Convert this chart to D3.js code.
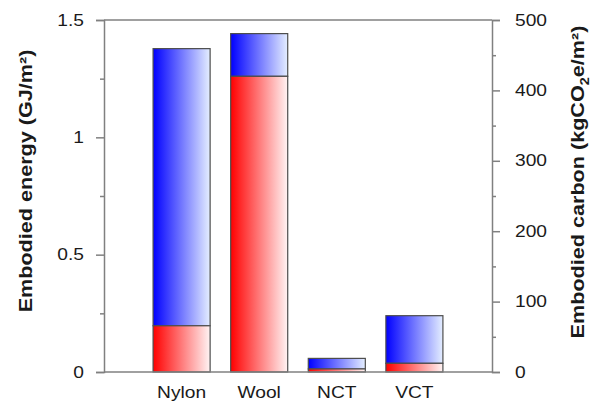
<!DOCTYPE html>
<html>
<head>
<meta charset="utf-8">
<script src="https://cdn.jsdelivr.net/npm/d3@7"></script>
<style>
  body { margin: 0; background: #fff; }
  text { font-family: "Liberation Sans", Arial, sans-serif; fill: #1a1a1a; }
</style>
</head>
<body>
<div id="chart"></div>
<script>
// data (GJ/m2)
const categories = ["Nylon", "Wool", "NCT", "VCT"];
const lowerValues = [0.197, 1.26, 0.013, 0.037];   // red segment
const totalValues = [1.378, 1.442, 0.058, 0.24];   // top of blue segment
const leftTicks = [0, 0.5, 1, 1.5];
const leftTickLabels = ["0", "0.5", "1", "1.5"];
const leftMinor = [0.25, 0.75, 1.25];
const rightTicks = [0, 100, 200, 300, 400, 500];
const rightMinor = [50, 150, 250, 350, 450];

const W = 593, H = 403;
const margin = {top: 20, right: 101, bottom: 31, left: 104};
const width = W - margin.left - margin.right;
const height = H - margin.top - margin.bottom;
const axisColor = "#808080";
const stretch = 1.2; // the original lettering is wide

const svg = d3.select("#chart").append("svg")
    .attr("width", W)
    .attr("height", H);

const defs = svg.append("defs");
function grad(id, c1, c2) {
    let g = defs.append("linearGradient").attr("id", id)
        .attr("x1", "0%").attr("x2", "100%").attr("y1", "0%").attr("y2", "0%");
    g.append("stop").attr("offset", "0%").attr("stop-color", c1);
    g.append("stop").attr("offset", "100%").attr("stop-color", c2);
}
grad("gBlue", "#0000ff", "#e4eeff");
grad("gRed", "#ff0000", "#fff4f4");

const g = svg.append("g")
    .attr("transform", "translate(" + margin.left + "," + margin.top + ")");

// first slot left empty, like the original
const slot = width / 5;
const x = d3.scaleBand()
    .domain(categories)
    .range([slot * 0.5, width - slot * 0.5])
    .paddingInner(0.265)
    .paddingOuter(0.1325);

const y = d3.scaleLinear().domain([0, 1.5]).range([height, 0]);
const y2 = d3.scaleLinear().domain([0, 500]).range([height, 0]);

// bars
const bars = g.selectAll(".bar").data(categories).enter().append("g");
bars.append("rect")
    .attr("x", d => x(d))
    .attr("width", x.bandwidth())
    .attr("y", (d, i) => y(totalValues[i]))
    .attr("height", (d, i) => y(lowerValues[i]) - y(totalValues[i]))
    .attr("fill", "url(#gBlue)")
    .attr("stroke", "#4d4d4d")
    .attr("stroke-width", 1.2);
bars.append("rect")
    .attr("x", d => x(d))
    .attr("width", x.bandwidth())
    .attr("y", (d, i) => y(lowerValues[i]))
    .attr("height", (d, i) => y(0) - y(lowerValues[i]))
    .attr("fill", "url(#gRed)")
    .attr("stroke", "#4d4d4d")
    .attr("stroke-width", 1.2);

// frame lines
g.append("line").attr("x1", 0).attr("x2", width).attr("y1", 0).attr("y2", 0)
    .attr("stroke", axisColor).attr("stroke-width", 1.5);
g.append("line").attr("x1", 0).attr("x2", width).attr("y1", height).attr("y2", height)
    .attr("stroke", axisColor).attr("stroke-width", 1.5);

// left axis
const leftAxis = g.append("g")
    .call(d3.axisLeft(y).tickValues(leftTicks).tickSize(8).tickPadding(12)
        .tickFormat((d, i) => leftTickLabels[i]));
g.append("g")
    .call(d3.axisLeft(y).tickValues(leftMinor).tickSize(4).tickFormat(""))
    .select(".domain").remove();

// right axis
const rightAxis = g.append("g")
    .attr("transform", "translate(" + width + ",0)")
    .call(d3.axisRight(y2).tickValues(rightTicks).tickSize(8).tickPadding(15));
g.append("g")
    .attr("transform", "translate(" + width + ",0)")
    .call(d3.axisRight(y2).tickValues(rightMinor).tickSize(4).tickFormat(""))
    .select(".domain").remove();

g.selectAll(".domain").attr("stroke", axisColor).attr("stroke-width", 1.5);
g.selectAll(".tick line").attr("stroke", axisColor).attr("stroke-width", 1.5);
g.selectAll(".tick text")
    .style("font-family", "'Liberation Sans', Arial, sans-serif")
    .style("font-size", "16px")
    .attr("fill", "#1a1a1a");

// widen the tick labels
leftAxis.selectAll(".tick text")
    .attr("x", -20 / stretch)
    .attr("transform", "scale(" + stretch + ",1)");
rightAxis.selectAll(".tick text")
    .attr("x", 23 / stretch)
    .attr("transform", "scale(" + stretch + ",1)");

// category labels
g.selectAll(".cat").data(categories).enter().append("text")
    .attr("transform", d => "translate(" + (x(d) + x.bandwidth() / 2) + "," + (height + 26) + ") scale(" + stretch + ",1)")
    .attr("text-anchor", "middle")
    .style("font-size", "16px")
    .text(d => d);

// axis titles
svg.append("text")
    .attr("transform", "translate(32,181) rotate(-90) scale(" + stretch + ",1)")
    .attr("text-anchor", "middle")
    .style("font-size", "18px")
    .style("font-weight", "bold")
    .text("Embodied energy (GJ/m²)");

const rt = svg.append("text")
    .attr("transform", "translate(584,182) rotate(-90) scale(" + stretch + ",1)")
    .attr("text-anchor", "middle")
    .style("font-size", "18px")
    .style("font-weight", "bold");
rt.append("tspan").text("Embodied carbon (kgCO");
rt.append("tspan").attr("dy", 5).style("font-size", "12px").text("2");
rt.append("tspan").attr("dy", -5).text("e/m²)");
</script>
</body>
</html>
